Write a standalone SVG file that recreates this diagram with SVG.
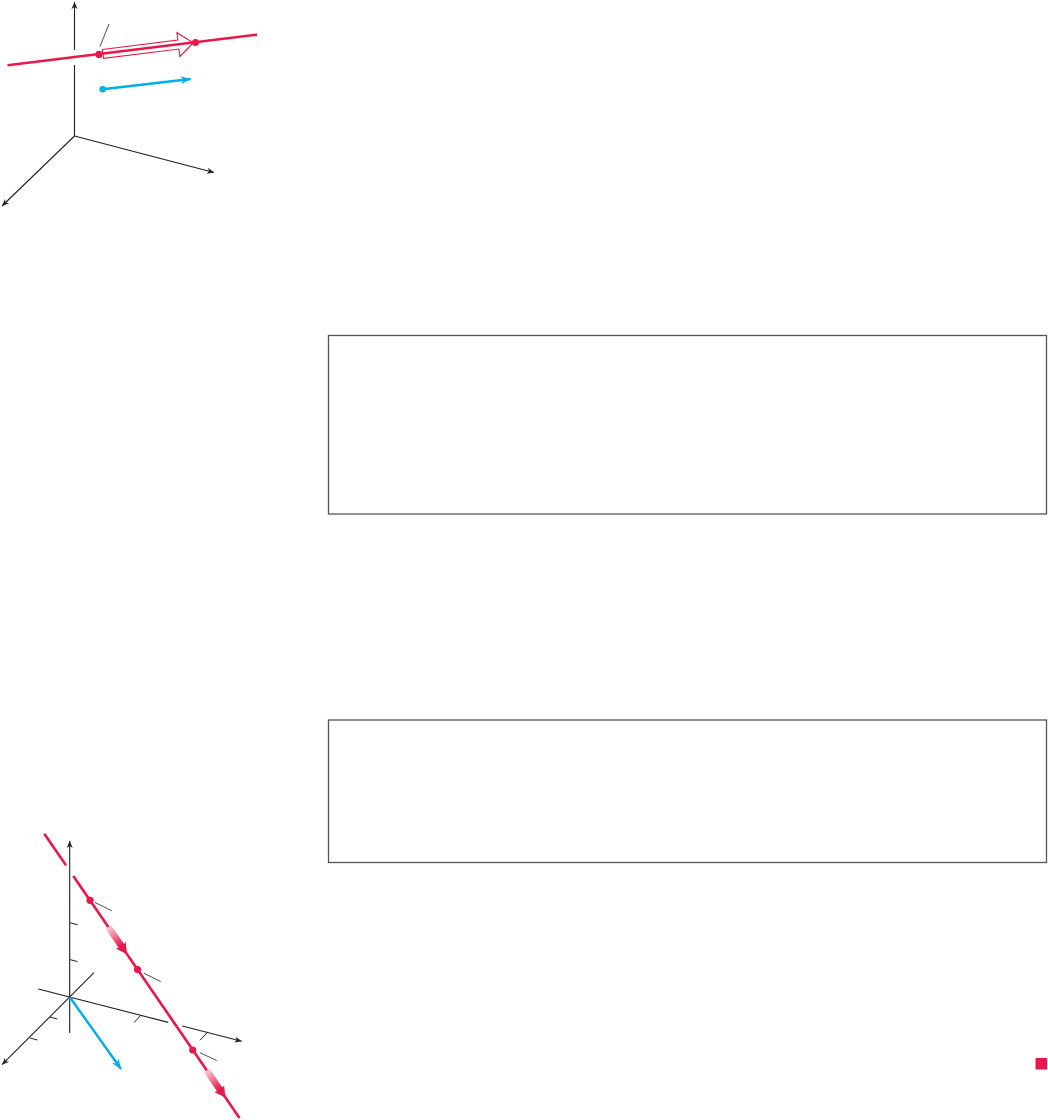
<svg xmlns="http://www.w3.org/2000/svg" width="1048" height="1120" viewBox="0 0 1048 1120">
<style>
.ax{stroke:#231F20;stroke-width:1.1;fill:none}
.tk{stroke:#231F20;stroke-width:1;fill:none}
.ld{stroke:#231F20;stroke-width:0.8;fill:none}
.rl{stroke:#E8184A;stroke-width:2.6;fill:none}
.bl{stroke:#00AEEF;stroke-width:2.4;fill:none}
.dot{fill:#E8184A}
.box{fill:none;stroke:#555555;stroke-width:1.3}
</style>
<defs>
<marker id="ah" viewBox="-8 -4 9 8" refX="0" refY="0" markerWidth="9" markerHeight="8" markerUnits="userSpaceOnUse" orient="auto">
<path d="M-7,-3 L0,0 L-7,3 L-5,0 Z" fill="#231F20"/>
</marker>
<marker id="bh" viewBox="-11 -5 12 10" refX="0" refY="0" markerWidth="12" markerHeight="10" markerUnits="userSpaceOnUse" orient="auto">
<path d="M-10,-4 L0,0 L-10,4 L-7,0 Z" fill="#00AEEF"/>
</marker>
<linearGradient id="rg" x1="0" y1="0" x2="1" y2="0">
<stop offset="0" stop-color="#F9CDD5"/>
<stop offset="0.7" stop-color="#E8184A"/>
<stop offset="1" stop-color="#E8184A"/>
</linearGradient>
</defs>

<g id="figure1">
<g id="fig1-axes">
<line class="ax" x1="74.5" y1="136" x2="74.5" y2="65"/>
<line class="ax" x1="74.5" y1="50" x2="74.5" y2="2" marker-end="url(#ah)"/>
<line class="ax" x1="74.5" y1="136" x2="214" y2="172.5" marker-end="url(#ah)"/>
<line class="ax" x1="74.5" y1="136" x2="2" y2="206" marker-end="url(#ah)"/>
</g>
<g id="fig1-hollow-arrow">
<polygon transform="translate(99,54.4) rotate(-7.05)" points="4,-4.5 80,-4.5 80,-12 95,0 80,12 80,4.5 4,4.5" fill="#FFFFFF" stroke="#E8184A" stroke-width="1.1"/>
</g>
<g id="fig1-line">
<line class="rl" x1="7.5" y1="65.2" x2="257" y2="34.6" stroke-width="3"/>
<circle class="dot" cx="99" cy="54.4" r="3.6"/>
<circle class="dot" cx="195.5" cy="42.5" r="3.6"/>
<line class="ld" x1="100" y1="46.5" x2="109" y2="24"/>
</g>
<g id="fig1-blue-vector">
<circle cx="102.7" cy="89.3" r="3.3" fill="#00AEEF"/>
<line class="bl" x1="102.7" y1="89.3" x2="190.7" y2="79" marker-end="url(#bh)"/>
</g>
</g>

<g id="box1">
<rect class="box" x="328.5" y="335.5" width="718" height="178.5"/>
</g>

<g id="box2">
<rect class="box" x="328.5" y="720" width="718" height="142.5"/>
</g>

<g id="figure2">
<g id="fig2-axes">
<line class="ax" x1="69.7" y1="1033" x2="69.7" y2="841" marker-end="url(#ah)"/>
<line class="ax" x1="94" y1="972.7" x2="2" y2="1064.7" marker-end="url(#ah)"/>
<line class="ax" x1="38.3" y1="989" x2="168.3" y2="1022.4"/>
<line class="ax" x1="182.3" y1="1026" x2="241.7" y2="1041.3" marker-end="url(#ah)"/>
</g>
<g id="fig2-ticks">
<line class="tk" x1="70" y1="922.7" x2="77.7" y2="924.8"/>
<line class="tk" x1="70" y1="959.6" x2="77.5" y2="961.6"/>
<line class="tk" x1="50" y1="1017" x2="57.3" y2="1019"/>
<line class="tk" x1="30" y1="1038" x2="37.3" y2="1040"/>
<line class="tk" x1="140.7" y1="1015.3" x2="134" y2="1022.6"/>
<line class="tk" x1="207.3" y1="1032.5" x2="200" y2="1040.2"/>
</g>
<g id="fig2-blue-vector">
<line class="bl" x1="69.7" y1="997" x2="121" y2="1069" marker-end="url(#bh)"/>
</g>
<g id="fig2-line">
<line class="rl" x1="44.3" y1="833.7" x2="66" y2="865.3"/>
<line class="rl" x1="73.3" y1="875.9" x2="239.5" y2="1118"/>
<circle class="dot" cx="90" cy="900.3" r="3.6"/>
<circle class="dot" cx="137.5" cy="969.5" r="3.6"/>
<circle class="dot" cx="192.7" cy="1050" r="3.6"/>
<line class="ld" x1="95" y1="902.5" x2="111.7" y2="910.7"/>
<line class="ld" x1="144" y1="973.3" x2="160.7" y2="981.5"/>
<line class="ld" x1="200" y1="1052.7" x2="216.7" y2="1060.5"/>
</g>
<g id="fig2-gradient-arrows">
<path transform="translate(108.3,927) rotate(55.55)" d="M0,-3.3 L23,-3.3 L22,-6 L33,0 L22,6 L23,3.3 L0,3.3 Z" fill="url(#rg)"/>
<path transform="translate(206.7,1070.4) rotate(55.55)" d="M0,-3.3 L23,-3.3 L22,-6 L33,0 L22,6 L23,3.3 L0,3.3 Z" fill="url(#rg)"/>
</g>
</g>

<g id="end-mark">
<rect x="1035.5" y="1058" width="11.5" height="11.5" fill="#E8184A"/>
</g>
</svg>
